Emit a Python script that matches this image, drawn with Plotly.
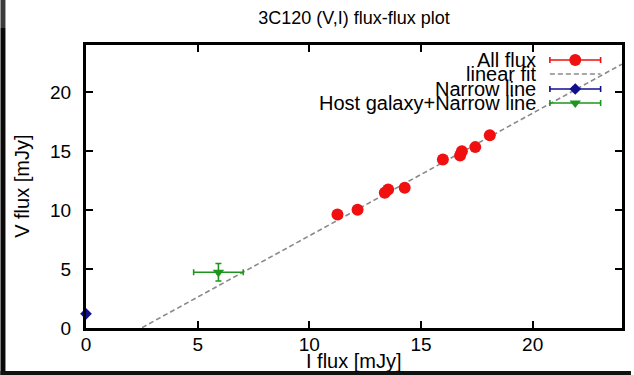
import plotly.graph_objects as go

# ---------------- data ----------------
all_I = [11.26, 12.16, 13.38, 13.53, 14.27, 15.98, 16.75, 16.83, 17.43, 18.08]
all_V = [9.63, 10.03, 11.47, 11.74, 11.89, 14.29, 14.63, 15.00, 15.34, 16.35]

narrow_I = [0.0]
narrow_V = [1.2]

host_I = [5.93]
host_V = [4.73]
host_I_err = [1.11]
host_V_err = [0.74]

fit_slope = 1.04
fit_intercept = -2.58

x_range = [0, 24]
y_range = [0, 24]
tick_vals = [0, 5, 10, 15, 20]

title_text = "3C120 (V,I) flux-flux plot"
x_label = "I flux [mJy]"
y_label = "V flux [mJy]"
legend_labels = ["All flux", "linear fit", "Narrow line", "Host galaxy+Narrow line"]

# ---------------- style ----------------
RED = "#f01010"
BLUE = "#10108f"
GREEN = "#1e961e"
GRAY = "#8a8a8a"
FONT = "Liberation Sans"

W, H = 634, 375
ML, MR, MT, MB = 86, 9, 45, 47
PW, PH = W - ML - MR, H - MT - MB


def px_x(p):
    return (p - ML) / PW


def px_y(p):
    return (H - MB - p) / PH


fig = go.Figure()

# linear fit
fit_x = [x_range[0], x_range[1]]
fit_y = [fit_slope * v + fit_intercept for v in fit_x]
fig.add_trace(go.Scatter(x=fit_x, y=fit_y, mode="lines",
                         line=dict(color=GRAY, width=1.6, dash="5px,3px"),
                         showlegend=False, hoverinfo="skip"))

# all flux
fig.add_trace(go.Scatter(x=all_I, y=all_V, mode="markers",
                         marker=dict(color=RED, size=12, symbol="circle"),
                         showlegend=False))

# host galaxy + narrow line
fig.add_trace(go.Scatter(x=host_I, y=host_V, mode="markers",
                         marker=dict(color=GREEN, size=10, symbol="triangle-down"),
                         error_x=dict(type="data", array=host_I_err, color=GREEN, thickness=1.6, width=3),
                         error_y=dict(type="data", array=host_V_err, color=GREEN, thickness=1.6, width=3),
                         showlegend=False))

# narrow line
fig.add_trace(go.Scatter(x=narrow_I, y=narrow_V, mode="markers",
                         marker=dict(color=BLUE, size=9, symbol="diamond"),
                         cliponaxis=False, showlegend=False))

# ---------------- custom gnuplot-style key ----------------
key_text_right = px_x(541)
key_sample_center = px_x(578)
key_half = (603 - 552) / 2 / PW
key_rows = [px_y(60), px_y(74), px_y(89), px_y(103)]

# All flux sample
fig.add_trace(go.Scatter(x=[key_sample_center], y=[key_rows[0]], xaxis="x2", yaxis="y2",
                         mode="markers", marker=dict(color=RED, size=12, symbol="circle"),
                         error_x=dict(type="constant", value=key_half, color=RED, thickness=1.6, width=3),
                         showlegend=False, hoverinfo="skip"))
# linear fit sample
fig.add_trace(go.Scatter(x=[key_sample_center - key_half, key_sample_center + key_half],
                         y=[key_rows[1], key_rows[1]], xaxis="x2", yaxis="y2",
                         mode="lines", line=dict(color=GRAY, width=1.6, dash="5px,3px"),
                         showlegend=False, hoverinfo="skip"))
# Narrow line sample
fig.add_trace(go.Scatter(x=[key_sample_center], y=[key_rows[2]], xaxis="x2", yaxis="y2",
                         mode="markers", marker=dict(color=BLUE, size=9, symbol="diamond"),
                         error_x=dict(type="constant", value=key_half, color=BLUE, thickness=1.6, width=3),
                         showlegend=False, hoverinfo="skip"))
# Host sample
fig.add_trace(go.Scatter(x=[key_sample_center], y=[key_rows[3]], xaxis="x2", yaxis="y2",
                         mode="markers", marker=dict(color=GREEN, size=10, symbol="triangle-down"),
                         error_x=dict(type="constant", value=key_half, color=GREEN, thickness=1.6, width=3),
                         showlegend=False, hoverinfo="skip"))

annotations = []
for lbl, yy in zip(legend_labels, key_rows):
    annotations.append(dict(text=lbl, x=key_text_right, y=yy, xref="paper", yref="paper",
                            xanchor="right", yanchor="middle", showarrow=False,
                            font=dict(family=FONT, size=20, color="black")))
annotations.append(dict(text=x_label, x=0.5, y=px_y(361), xref="paper", yref="paper",
                        xanchor="center", yanchor="middle", showarrow=False,
                        font=dict(family=FONT, size=20, color="black")))
annotations.append(dict(text=y_label, x=px_x(21), y=0.5, xref="paper", yref="paper",
                        xanchor="center", yanchor="middle", showarrow=False, textangle=-90,
                        font=dict(family=FONT, size=20, color="black")))

# dark screenshot borders
shapes = [
    dict(type="rect", xref="paper", yref="paper", x0=px_x(0), x1=px_x(5), y0=px_y(28), y1=px_y(0),
         fillcolor="#3a3a3a", line=dict(width=0), layer="below"),
    dict(type="rect", xref="paper", yref="paper", x0=px_x(0), x1=px_x(5), y0=px_y(375), y1=px_y(28),
         fillcolor="#0a0a0a", line=dict(width=0), layer="below"),
    dict(type="rect", xref="paper", yref="paper", x0=px_x(0), x1=px_x(634), y0=px_y(375), y1=px_y(371),
         fillcolor="#111111", line=dict(width=0), layer="below"),
]

axis_common = dict(showline=True, linecolor="black", linewidth=3, mirror="ticks",
                   ticks="inside", ticklen=7, tickwidth=2, tickcolor="black",
                   showgrid=False, zeroline=False, tickvals=tick_vals,
                   tickfont=dict(family=FONT, size=19, color="black"))

fig.update_layout(
    width=W, height=H,
    margin=dict(l=ML, r=MR, t=MT, b=MB),
    paper_bgcolor="white", plot_bgcolor="white",
    title=dict(text=title_text, x=px_x(355.5), xref="paper", y=1 - 18 / H, yref="container",
               xanchor="center", yanchor="middle",
               font=dict(family=FONT, size=18, color="black")),
    xaxis=dict(range=x_range, ticklabelstandoff=-3, **axis_common),
    yaxis=dict(range=y_range, ticklabelstandoff=8, **axis_common),
    xaxis2=dict(overlaying="x", range=[0, 1], visible=False),
    yaxis2=dict(overlaying="y", range=[0, 1], visible=False),
    annotations=annotations,
    shapes=shapes,
    showlegend=False,
)

fig.write_html("out.html")
